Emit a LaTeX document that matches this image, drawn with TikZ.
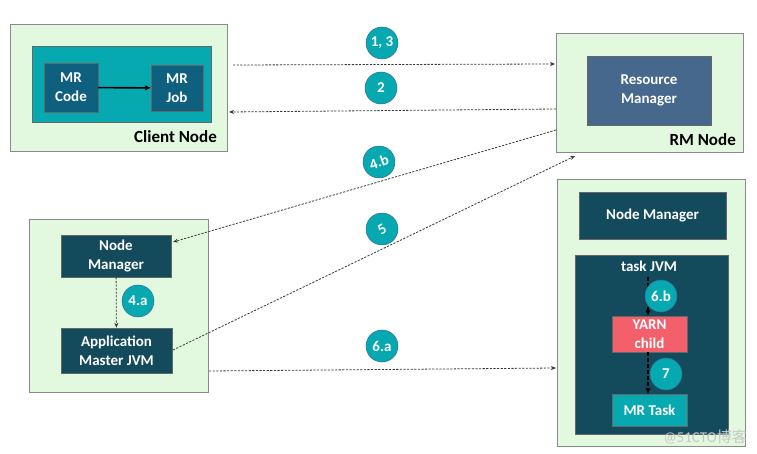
\documentclass[tikz,border=0pt]{standalone}
\usepackage{fontspec}
\setmainfont{Carlito}
\newfontfamily\cjkfont{Noto Sans CJK SC}
\usetikzlibrary{arrows.meta,calc}
\definecolor{lgreen}{HTML}{E3F9DF}
\definecolor{boxgray}{HTML}{8A8A8A}
\definecolor{tealc}{HTML}{07A9B0}
\definecolor{darkt}{HTML}{134B5D}
\definecolor{mrblue}{HTML}{0F5F7E}
\definecolor{rmblue}{HTML}{46688D}
\definecolor{yarnred}{HTML}{F35F6B}
\definecolor{dashg}{HTML}{3A3A3A}
\definecolor{circline}{HTML}{2F6F99}
\tikzset{
  outerbox/.style={draw=boxgray, line width=0.8pt, fill=lgreen},
  darkbox/.style={draw=black!60, line width=0.5pt, fill=darkt, text=white, font=\bfseries\fontsize{15}{19}\selectfont, align=center, inner sep=0pt},
  stepnum/.style={circle, fill=tealc, draw=circline, line width=0.5pt, text=white, font=\bfseries\fontsize{15}{17}\selectfont, minimum size=32pt, inner sep=0pt},
  msg/.style={draw=dashg, line width=0.8pt, dash pattern=on 2.2pt off 1.4pt, -{Stealth[length=5pt,width=4pt]}},
  inner/.style={draw=black, line width=1.4pt, dash pattern=on 4pt off 2pt, -{Stealth[length=6pt,width=5pt]}},
  lbl/.style={font=\bfseries\fontsize{17}{19}\selectfont, text=black, anchor=east, inner sep=0pt}
}
\begin{document}
\begin{tikzpicture}[x=1pt,y=-1pt]
\useasboundingbox (0,0) rectangle (757,454);
\fill[white] (0,0) rectangle (757,454);

% Client node
\node[outerbox, minimum width=217pt, minimum height=127pt, anchor=north west] (client) at (10,24) {};
\node[draw=black!60, line width=0.5pt, fill=tealc, minimum width=179pt, minimum height=76pt, anchor=north west] (clientin) at (32,46) {};
\node[darkbox, fill=mrblue, minimum width=54pt, minimum height=49pt] (mrcode) at (71,87.5) {MR\\Code};
\node[darkbox, fill=mrblue, minimum width=52pt, minimum height=46pt] (mrjob) at (177,88) {MR\\Job};
\draw[line width=1.6pt, -{Stealth[length=6pt,width=5pt]}] (mrcode) -- (mrjob);
\node[lbl] (clientlbl) at (217,137) {Client Node};

% RM node
\node[outerbox, minimum width=187pt, minimum height=119pt, anchor=north west] (rmnode) at (556,33) {};
\node[darkbox, fill=rmblue, minimum width=124pt, minimum height=69pt] (rm) at (649,90.5) {Resource\\Manager};
\node[lbl] (rmlbl) at (736,140) {RM Node};

% Left node manager group
\node[outerbox, minimum width=179pt, minimum height=173pt, anchor=north west] (leftgrp) at (29,219) {};
\node[darkbox, minimum width=110pt, minimum height=42pt] (nm1) at (116,256) {Node\\Manager};
\node[darkbox, minimum width=111pt, minimum height=45pt] (am) at (116.5,350.5) {Application\\Master JVM};
\draw[msg] (nm1) -- (am);
\node[stepnum] (s4a) at (138,301) {4.a};

% Right node manager group
\node[outerbox, minimum width=188pt, minimum height=267pt, anchor=north west] (rightgrp) at (557,179) {};
\node[darkbox, minimum width=147pt, minimum height=47pt] (nm2) at (652.5,215.5) {Node Manager};
\node[darkbox, minimum width=153pt, minimum height=179pt, anchor=north west] (tjvm) at (575,255) {};
\node[text=white, font=\bfseries\fontsize{15}{17}\selectfont, inner sep=0pt] (tjvmlbl) at (649,266) {task JVM};
\node[darkbox, fill=yarnred, minimum width=75pt, minimum height=36pt] (yarn) at (649.5,334) {YARN\\child};
\node[darkbox, fill=tealc, minimum width=75pt, minimum height=32pt] (mrtask) at (649.5,410) {MR Task};
\coordinate (tjtop) at (648,277);
\draw[inner] (tjtop) -- (yarn.north -| tjtop);
\draw[inner] (yarn.south -| tjtop) -- (mrtask.north -| tjtop);
\node[stepnum] (s6b) at (661,296) {6.b};
\node[stepnum] (s7) at (666,374) {7};

% message connectors
\coordinate (c13a) at (233,65);
\coordinate (c13b) at (555,64);
\draw[msg] (c13a) -- (c13b);
\coordinate (c2a) at (556,109);
\coordinate (c2b) at (229,112);
\draw[msg] (c2a) -- (c2b);
\coordinate (c4a) at (556,130);
\coordinate (c4b) at (173,242);
\draw[msg] (c4a) -- (c4b);
\coordinate (c5a) at (173,350);
\coordinate (c5b) at (575,156);
\draw[msg] (c5a) -- (c5b);
\coordinate (c6a) at (209,371);
\coordinate (c6b) at (556,368);
\draw[msg] (c6a) -- (c6b);

\node[stepnum] (s13) at (382,43) {1, 3};
\node[stepnum] (s2) at (381,88) {2};
\node[stepnum, rotate=20] (s4b) at (379,162) {4.b};
\node[stepnum, rotate=30] (s5) at (382,229) {5};
\node[stepnum] (s6a) at (382,346) {6.a};

% watermark
\node[text=black!22, font=\fontsize{15}{17}\selectfont, anchor=east, inner sep=0pt] (wm) at (747,437) {@51CTO{\cjkfont 博客}};
\end{tikzpicture}
\end{document}
